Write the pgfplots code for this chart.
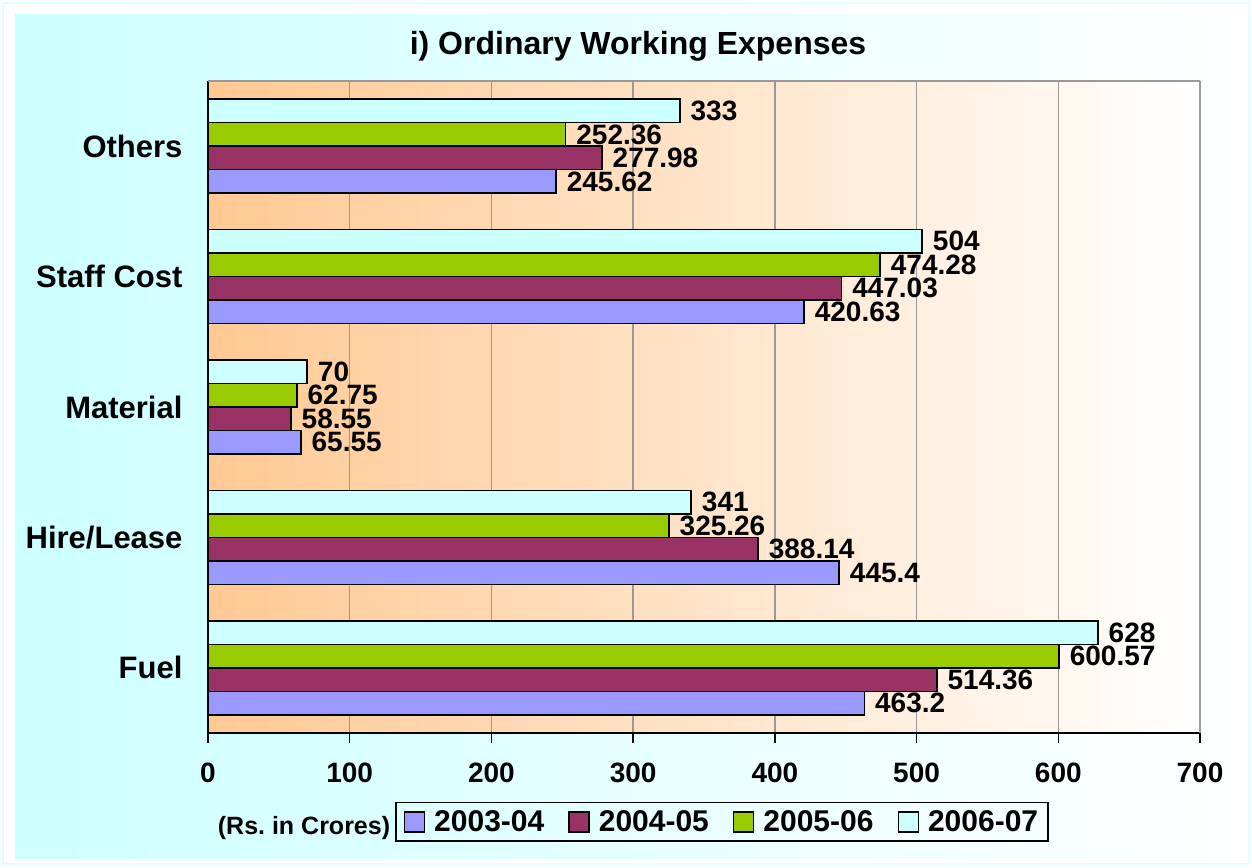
\documentclass[border=0pt]{standalone}
\usepackage{fontspec}
\setmainfont{Liberation Sans}
\usepackage{pgfplots}
\pgfplotsset{compat=1.18}
\definecolor{sOne}{HTML}{9999FF}
\definecolor{sTwo}{HTML}{993366}
\definecolor{sThree}{HTML}{99CC00}
\definecolor{sFour}{HTML}{CCFFFF}
\definecolor{bgcyan}{HTML}{CCFFFF}
\definecolor{plotorange}{HTML}{FFC993}
\definecolor{gridgray}{HTML}{999999}

\begin{document}
\begin{tikzpicture}[x=1pt,y=1pt]
\useasboundingbox (0,0) rectangle (1252,867);
\fill[white] (0,0) rectangle (1252,867);
\draw[bgcyan!60, line width=2pt] (3,3) rectangle (1249,864);
\shade[left color=bgcyan, right color=white] (15,9) rectangle (1244,852);
\node[font=\fontsize{32}{38}\selectfont\bfseries] at (638,821) {i) Ordinary Working Expenses};
\node[font=\fontsize{25}{30}\selectfont\bfseries] at (304,39) {(Rs.\ in Crores)};

\begin{axis}[
  at={(208pt,134pt)}, anchor=south west,
  width=992pt, height=652pt, scale only axis,
  xmin=0, xmax=700, ymin=-0.5, ymax=4.5,
  xbar=0pt, bar width=23.5pt,
  axis x line*=bottom, axis y line*=left,
  axis line style={black, line width=1.6pt, -},
  xtick={0,100,...,700},
  xmajorgrids, grid style={gridgray, line width=1.5pt},
  tick align=outside,
  x tick style={black, line width=1.5pt},
  major tick length=10pt,
  ytick={0,1,2,3,4},
  yticklabels={Fuel,Hire/Lease,Material,Staff Cost,Others},
  y tick style={draw=none},
  extra y ticks={-0.5,0.5,1.5,2.5,3.5,4.5},
  extra y tick labels={},
  extra y tick style={grid=none, tick style={black, line width=1.5pt}},
  xticklabel style={font=\fontsize{28}{32}\selectfont\bfseries, yshift=-16pt},
  yticklabel style={font=\fontsize{31}{36}\selectfont\bfseries, xshift=-12pt},
  /pgf/number format/assume math mode=true,
  axis background/.style={left color=plotorange, right color=white},
  point meta=explicit symbolic,
  nodes near coords,
  nodes near coords style={font=\fontsize{28}{32}\selectfont\bfseries, black, anchor=west,
    inner xsep=0pt, inner ysep=0pt, xshift=10pt},
  every axis plot/.append style={draw=black, line width=1.5pt},
  legend columns=4,
  legend style={at={(0.1885,-0.1058)}, anchor=north west, draw=black, line width=1.5pt,
    fill=none, font=\fontsize{30}{34}\selectfont\bfseries, inner ysep=6pt, inner xsep=8pt,
    /tikz/every odd column/.append style={column sep=7pt},
    /tikz/every even column/.append style={column sep=22pt}},
  legend image code/.code={\draw[#1, draw=black, line width=1.5pt] (0pt,-10pt) rectangle (20pt,10pt);},
]
\addplot[fill=sOne] coordinates {(463.2,0) [463.2] (445.4,1) [445.4] (65.55,2) [65.55] (420.63,3) [420.63] (245.62,4) [245.62]};
\addplot[fill=sTwo] coordinates {(514.36,0) [514.36] (388.14,1) [388.14] (58.55,2) [58.55] (447.03,3) [447.03] (277.98,4) [277.98]};
\addplot[fill=sThree] coordinates {(600.57,0) [600.57] (325.26,1) [325.26] (62.75,2) [62.75] (474.28,3) [474.28] (252.36,4) [252.36]};
\addplot[fill=sFour] coordinates {(628,0) [628] (341,1) [341] (70,2) [70] (504,3) [504] (333,4) [333]};
\legend{2003-04,2004-05,2005-06,2006-07}
\draw[gridgray, line width=1.5pt] (rel axis cs:0,1) -- (rel axis cs:1,1) -- (rel axis cs:1,0);
\end{axis}
\end{tikzpicture}
\end{document}
